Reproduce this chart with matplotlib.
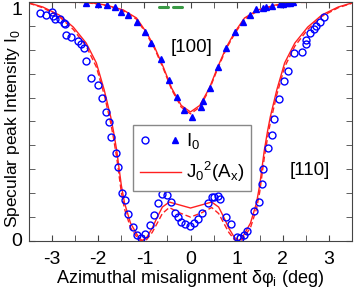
import matplotlib
matplotlib.use("Agg")
import matplotlib.pyplot as plt
from matplotlib.lines import Line2D
from matplotlib.legend_handler import HandlerTuple
from matplotlib.ticker import MultipleLocator

plt.rcParams['font.family'] = ['Liberation Sans', 'DejaVu Sans']
plt.rcParams['mathtext.fontset'] = 'custom'
plt.rcParams['mathtext.rm'] = 'Liberation Sans'
plt.rcParams['axes.unicode_minus'] = False

# [100] measured points (triangles)
x100 = [-2.26, -2.0, -1.80, -1.63, -1.50, -1.35, -1.15, -0.98, -0.85, -0.65, -0.46, -0.30,
        -0.15, 0.04, 0.22, 0.28, 0.43, 0.59, 0.78, 0.96, 1.13, 1.28, 1.43, 1.57, 1.63,
        1.76, 1.93, 2.0, 2.09, 2.15, 2.22]
y100 = [0.996, 0.992, 0.987, 0.979, 0.958, 0.946, 0.916, 0.874, 0.828, 0.762, 0.674, 0.603,
        0.548, 0.519, 0.561, 0.586, 0.640, 0.728, 0.808, 0.874, 0.916, 0.946, 0.971, 0.975, 0.979,
        0.983, 0.992, 0.992, 0.996, 0.996, 1.0]

# [110] measured points (circles)
x110 = [-3.26, -3.13, -3.00, -2.98, -2.93, -2.83, -2.74, -2.72, -2.70, -2.59, -2.43, -2.37,
        -2.30, -2.26, -2.15, -2.00, -1.91, -1.83, -1.76, -1.72, -1.61, -1.57, -1.48, -1.41,
        -1.35, -1.24, -1.17, -1.07, -0.98, -0.87, -0.80, -0.70, -0.61, -0.52, -0.43, -0.33,
        -0.28, -0.20, -0.11, -0.02, 0.07, 0.17, 0.26, 0.37, 0.46, 0.52, 0.59, 0.63, 0.78,
        0.87, 1.00, 1.07, 1.15, 1.22, 1.37, 1.48, 1.54, 1.57, 1.67, 1.76, 1.80, 1.91, 2.02,
        2.11, 2.24, 2.41, 2.50, 2.50, 2.59, 2.67, 2.72, 2.80, 2.89]
y110 = [0.954, 0.946, 0.958, 0.941, 0.929, 0.929, 0.912, 0.908, 0.862, 0.854, 0.837, 0.824,
        0.808, 0.753, 0.682, 0.653, 0.598, 0.540, 0.498, 0.435, 0.368, 0.310, 0.201, 0.172,
        0.113, 0.059, 0.025, 0.013, 0.029, 0.067, 0.109, 0.159, 0.197, 0.192, 0.163, 0.117,
        0.100, 0.079, 0.071, 0.063, 0.075, 0.092, 0.117, 0.159, 0.184, 0.184, 0.188, 0.176, 0.100,
        0.071, 0.017, 0.013, 0.025, 0.042, 0.126, 0.163, 0.238, 0.301, 0.389, 0.444, 0.510, 0.594, 0.669,
        0.711, 0.787, 0.791, 0.824, 0.841, 0.870, 0.887, 0.900, 0.916, 0.937]

# J0^2 fit curves
xf100 = [-3.5, -2.26, -1.83, -1.46, -1.17, -0.96, -0.78, -0.59, -0.41, -0.2, 0.0,
         0.2, 0.41, 0.59, 0.78, 0.96, 1.17, 1.46, 1.83, 2.26, 3.5]
yf100 = [1.0, 1.0, 0.987, 0.967, 0.933, 0.874, 0.812, 0.728, 0.64, 0.567, 0.54,
         0.567, 0.64, 0.728, 0.812, 0.874, 0.933, 0.967, 0.987, 1.0, 1.0]
yf100d = [1.0, 0.998, 0.985, 0.963, 0.928, 0.868, 0.806, 0.722, 0.634, 0.56, 0.532,
          0.56, 0.634, 0.722, 0.806, 0.868, 0.928, 0.963, 0.985, 0.998, 1.0]

xf110 = [-3.5, -3.2, -2.85, -2.54, -2.26, -2.04, -1.87, -1.73, -1.67, -1.6, -1.5, -1.43,
         -1.3, -1.13, -1.05, -0.95, -0.83, -0.72, -0.61, -0.46, -0.24, 0.0, 0.24, 0.46,
         0.61, 0.72, 0.83, 0.95, 1.05, 1.13, 1.3, 1.43, 1.5, 1.6, 1.67, 1.73, 1.87, 2.04,
         2.26, 2.54, 2.85, 3.2, 3.5]
yf110 = [0.996, 0.979, 0.946, 0.895, 0.828, 0.745, 0.632, 0.52, 0.46, 0.38, 0.234, 0.159,
         0.075, 0.017, 0.002, 0.015, 0.054, 0.10, 0.142, 0.163, 0.151, 0.138, 0.151, 0.163,
         0.142, 0.10, 0.054, 0.015, 0.002, 0.017, 0.075, 0.159, 0.234, 0.38, 0.46, 0.52, 0.632, 0.745,
         0.828, 0.895, 0.946, 0.979, 0.996]
yf110d = [0.995, 0.976, 0.94, 0.885, 0.815, 0.728, 0.612, 0.495, 0.432, 0.35, 0.205, 0.134,
          0.056, 0.007, 0.0, 0.006, 0.036, 0.075, 0.115, 0.14, 0.118, 0.10, 0.118, 0.14,
          0.115, 0.075, 0.036, 0.006, 0.0, 0.007, 0.056, 0.134, 0.205, 0.35, 0.432, 0.495, 0.612, 0.728,
          0.815, 0.885, 0.94, 0.976, 0.995]

# small green marks at the top
xg1 = [-0.68, -0.48]
xg2 = [-0.38, -0.19]
yg = [0.977, 0.977]

fig = plt.figure(figsize=(3.55, 2.9), dpi=100)
ax = fig.add_axes([29/355, 49/290, 323/355, 239/290])

red = '#ff2020'
blue = '#0000ff'
ax.plot(xf100, yf100, color=red, lw=1.0)
ax.plot(xf100, yf100d, color=red, lw=1.0, ls=(0, (4, 2)))
ax.plot(xf110, yf110, color=red, lw=1.0)
ax.plot(xf110, yf110d, color=red, lw=1.0, ls=(0, (4, 2)))
ax.plot(x110, y110, 'o', mfc='none', mec=blue, mew=1.0, ms=5)
ax.plot(x100, y100, '^', color=blue, ms=5)
ax.plot(xg1, yg, color='#3a9a45', lw=2.2, solid_capstyle='round')
ax.plot(xg2, yg, color='#3a9a45', lw=2.2, solid_capstyle='round')

ax.set_xlim(-3.5, 3.5)
ax.set_ylim(0, 1)
ax.xaxis.set_major_locator(MultipleLocator(1))
ax.xaxis.set_minor_locator(MultipleLocator(0.5))
ax.set_yticks([0, 1])
ax.yaxis.set_minor_locator(MultipleLocator(0.1))
ax.tick_params(which='both', direction='in', top=True, right=True, labelsize=14,
               length=4, color='#444444')
ax.tick_params(axis='x', pad=7)
ax.tick_params(axis='y', pad=5)
for s in ax.spines.values():
    s.set_color('#444444')

ylabs = ax.get_yticklabels()
ylabs[1].set_verticalalignment('top')
ylabs[0].set_verticalalignment('center')

ax.set_xlabel('Azimuthal misalignment δφ$_\\mathregular{i}$ (deg)', fontsize=13, labelpad=0)
ax.set_ylabel('Specular peak Intensity I$_\\mathregular{0}$', fontsize=12.5)
ax.yaxis.set_label_coords(-0.022, 0.47)

ax.text(0.02, 0.81, '[100]', fontsize=13.5, ha='center', va='center')
ax.text(2.59, 0.297, '[110]', fontsize=13.5, ha='center', va='center')

h_circ = Line2D([], [], ls='none', marker='o', mfc='none', mec=blue, mew=1.0, ms=5)
h_tri = Line2D([], [], ls='none', marker='^', color=blue, ms=5)
h_line = Line2D([], [], color=red, lw=1.0)
leg = ax.legend([(h_circ, h_tri), h_line],
                ['I$_\\mathregular{0}$', '$\\mathregular{J_{0}{}^{2}(A_x)}$'],
                handler_map={tuple: HandlerTuple(ndivide=None, pad=1.0)},
                loc='upper left', bbox_to_anchor=(0.322, 0.485), borderaxespad=0,
                fontsize=13.5, handlelength=2.2, handletextpad=0.3, labelspacing=0.45,
                borderpad=0.35, fancybox=False, edgecolor='#888888', framealpha=1)
leg.get_frame().set_linewidth(1.0)

fig.savefig('out.png', dpi=100)
